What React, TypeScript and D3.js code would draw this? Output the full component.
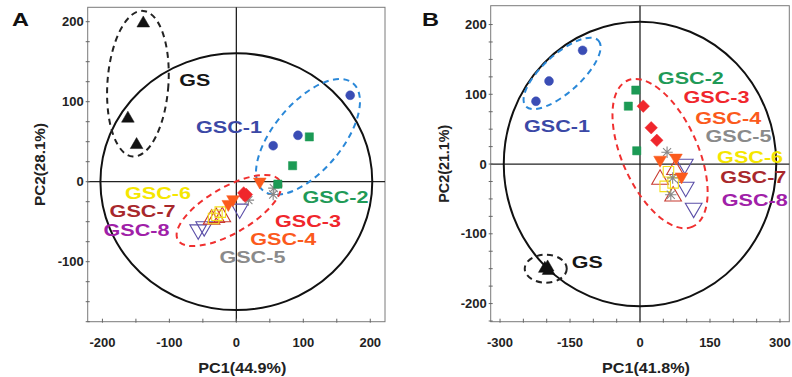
import React from "react";
import * as d3 from "d3";

// ---------- data ----------
const groups = ["GS", "GSC-1", "GSC-2", "GSC-3", "GSC-4", "GSC-5", "GSC-6", "GSC-7", "GSC-8"];
const groupShapes = ["triangle", "circle", "square", "diamond", "triDown", "asterisk", "squareOpen", "triOpen", "triDownOpen"];
const markerColors = ["#111111", "#3a4db5", "#1c9a55", "#f0262c", "#fb5a1c", "#888888", "#f3e01c", "#c8392f", "#5b4fa8"];
const labelColors = ["#151515", "#3b48a6", "#1f9a57", "#f0262c", "#fb5a1c", "#8a8a8a", "#f5e600", "#a8282c", "#a020a8"];

// Panel A scores (PC1, PC2)
const pointsA: [number, number][][] = [
  [[-139, 198], [-162, 79], [-149, 46]],
  [[170, 108], [92, 58], [55, 45]],
  [[109, 56], [84, 20], [62, -3]],
  [[11, -14], [15, -16], [13, -18]],
  [[35, 0], [-5, -22], [-12, -28]],
  [[18, -23], [56, -8], [55, -16]],
  [[-24, -38], [-34, -46], [-29, -42]],
  [[-37, -47], [-30, -45], [-21, -44]],
  [[-57, -60], [-48, -56], [5, -34]],
];
// Panel B scores (PC1, PC2)
const pointsB: [number, number][][] = [
  [[-204, -150], [-198, -148], [-196, -153]],
  [[-123, 163], [-195, 119], [-223, 90]],
  [[-9, 106], [-25, 83], [-7, 19]],
  [[7, 83], [24, 52], [36, 34]],
  [[43, 6], [77, 9], [89, -18]],
  [[58, 17], [66, -44], [70, -20]],
  [[61, -11], [54, -32], [71, -27]],
  [[43, -22], [75, -8], [71, -46]],
  [[96, 0], [98, -33], [115, -63]],
];
// label anchor positions (data units)
const labelPosA: [number, number][] = [[-62, 127], [-11, 68], [148, -19], [107, -49], [70, -72], [24, -94], [-117, -14], [-140, -37], [-149, -60]];
const labelPosB: [number, number][] = [[-113, -140], [-178, 54], [109, 124], [164, 96], [189, 66], [211, 40], [236, 10], [243, -18], [246, -51]];

const xTicksA = d3.range(-200, 201, 50);
const xLabelsA = [-200, -100, 0, 100, 200];
const yTicksA = d3.range(-175, 201, 25);
const yLabelsA = [-100, 0, 100, 200];
const xTicksB = d3.range(-300, 301, 50);
const xLabelsB = [-300, -150, 0, 150, 300];
const yTicksB = d3.range(-225, 201, 25);
const yLabelsB = [-200, -100, 0, 100, 200];

// Hotelling T2 ellipse radii (data units)
const t2A = [203, 160.5];
const t2B = [292, 204];

// group ellipses: [centerX, centerY] in data units
const ellCentersA: [number, number][] = [[-147, 122.5], [107, 56], [-11, -36]];
const ellCentersB: [number, number][] = [[-202, -150], [-167, 130], [43, 15]];

const FONT = "'Liberation Sans', Arial, Helvetica, sans-serif";

function symbolPath(shape: string, size: number) {
  switch (shape) {
    case "circle": return d3.symbol().type(d3.symbolCircle).size(size)()!;
    case "square":
    case "squareOpen":
    case "diamond": return d3.symbol().type(d3.symbolSquare).size(size)()!;
    case "triangle":
    case "triOpen":
    case "triDown":
    case "triDownOpen": return d3.symbol().type(d3.symbolTriangle).size(size)()!;
    default: {
      const r = Math.sqrt(size) * 0.6;
      let p = "";
      for (let i = 0; i < 4; i++) {
        const a = (i * Math.PI) / 4;
        p += `M${-r * Math.cos(a)},${-r * Math.sin(a)}L${r * Math.cos(a)},${r * Math.sin(a)}`;
      }
      return p;
    }
  }
}

function Marker({ shape, color, x, y }: { shape: string; color: string; x: number; y: number }) {
  const open = shape.endsWith("Open") || shape === "asterisk";
  const down = shape.startsWith("triDown");
  const size = shape === "circle" ? 62 : shape === "square" ? 68 : shape === "diamond" ? 78 :
    shape === "triangle" || shape === "triDown" ? 70 : shape === "asterisk" ? 90 : shape === "squareOpen" ? 110 : 120;
  const rot = down ? " rotate(180)" : shape === "diamond" ? " rotate(45)" : "";
  return (
    <path
      d={symbolPath(shape, size)}
      transform={`translate(${x},${y})${rot}`}
      fill={open ? "none" : color}
      stroke={color}
      strokeWidth={open ? 1.1 : 0.5}
    />
  );
}

type Cfg = {
  letter: string;
  xDom: [number, number]; xRange: [number, number];
  yDom: [number, number]; yRange: [number, number];
  xTicks: number[]; xLabels: number[]; yTicks: number[]; yLabels: number[];
  points: [number, number][][]; labelPos: [number, number][];
  t2: number[]; ellCenters: [number, number][];
  ellShapes: { a: number; b: number; rot: number; color: string }[];
  xTitle: string; yTitle: string; yTitleLen: number;
  letterX: number; yTitleX: number;
};

function Panel({ c }: { c: Cfg }) {
  const x = d3.scaleLinear().domain(c.xDom).range(c.xRange);
  const y = d3.scaleLinear().domain(c.yDom).range(c.yRange);
  const [x0, x1] = c.xRange;
  const [y0, y1] = c.yRange; // y0 bottom, y1 top
  const t2x = Math.abs(x(c.t2[0]) - x(0));
  const t2y = Math.abs(y(c.t2[1]) - y(0));
  return (
    <g fontFamily={FONT} fontWeight="bold">
      <text x={c.letterX} y={26} fontSize={19} textLength={17} lengthAdjust="spacingAndGlyphs" fill="#111">{c.letter}</text>
      {/* frame */}
      <rect x={x0} y={y1} width={x1 - x0} height={y0 - y1} fill="none" stroke="#7a7a7a" strokeWidth={1} />
      {/* crosshair */}
      <line x1={x0} x2={x1} y1={y(0)} y2={y(0)} stroke="#222" strokeWidth={1.3} />
      <line x1={x(0)} x2={x(0)} y1={y1} y2={y0} stroke="#222" strokeWidth={1.3} />
      {/* ticks */}
      {c.xTicks.map((t) => (
        <line key={"xt" + t} x1={x(t)} x2={x(t)} y1={y0 - 3} y2={y0 + 1} stroke="#666" strokeWidth={1} />
      ))}
      {c.yTicks.map((t) => (
        <line key={"yt" + t} x1={x0 - 2} x2={x0 + 2} y1={y(t)} y2={y(t)} stroke="#666" strokeWidth={1} />
      ))}
      {c.xLabels.map((t) => (
        <text key={"xl" + t} x={x(t)} y={y0 + 25} fontSize={13} textAnchor="middle" fill="#222">{t}</text>
      ))}
      {c.yLabels.map((t) => (
        <text key={"yl" + t} x={x0 - 4} y={y(t) + 4.5} fontSize={13} textAnchor="end" fill="#222">{t}</text>
      ))}
      <text x={(x0 + x1) / 2 + 6} y={y0 + 51} fontSize={15} textAnchor="middle" textLength={88} lengthAdjust="spacingAndGlyphs" fill="#222">{c.xTitle}</text>
      <text transform={`translate(${c.yTitleX},${(y0 + y1) / 2}) rotate(-90)`} fontSize={15} textAnchor="middle" textLength={c.yTitleLen} lengthAdjust="spacingAndGlyphs" fill="#222">{c.yTitle}</text>
      {/* T2 ellipse */}
      <ellipse cx={x(0)} cy={y(0)} rx={t2x} ry={t2y} fill="none" stroke="#111" strokeWidth={2} />
      {/* group ellipses */}
      {c.ellCenters.map((p, i) => {
        const e = c.ellShapes[i];
        return (
          <ellipse key={"e" + i} transform={`translate(${x(p[0])},${y(p[1])}) rotate(${e.rot})`} rx={e.a} ry={e.b}
            fill="none" stroke={e.color} strokeWidth={2} strokeDasharray="6,4.5" />
        );
      })}
      {/* points (draw later groups first so filled ones on top) */}
      {[8, 7, 6, 5, 4, 3, 2, 1, 0].map((gi) =>
        c.points[gi].map((p, j) => (
          <Marker key={gi + "-" + j} shape={groupShapes[gi]} color={markerColors[gi]} x={x(p[0])} y={y(p[1])} />
        ))
      )}
      {/* labels */}
      {groups.map((g, i) => (
        <text key={"lab" + g} x={x(c.labelPos[i][0])} y={y(c.labelPos[i][1]) + 6} fontSize={16.5} textAnchor="middle"
          textLength={g === "GS" ? 31 : 66} lengthAdjust="spacingAndGlyphs" fill={labelColors[i]}>{g}</text>
      ))}
    </g>
  );
}

const cfgA: Cfg = {
  letter: "A",
  xDom: [-222, 222], xRange: [87.7, 385],
  yDom: [-175, 218], yRange: [321.7, 7.3],
  xTicks: xTicksA, xLabels: xLabelsA, yTicks: yTicksA, yLabels: yLabelsA,
  points: pointsA, labelPos: labelPosA, t2: t2A, ellCenters: ellCentersA,
  ellShapes: [
    { a: 30.5, b: 73, rot: 4, color: "#222" },
    { a: 70, b: 34, rot: -50, color: "#2a88d8" },
    { a: 59, b: 23, rot: -30, color: "#f03030" },
  ],
  xTitle: "PC1(44.9%)", yTitle: "PC2(28.1%)", yTitleLen: 83,
  letterX: 12, yTitleX: 45,
};

const cfgB: Cfg = {
  letter: "B",
  xDom: [-320, 320], xRange: [490.7, 789.3],
  yDom: [-226, 227], yRange: [321.7, 5.7],
  xTicks: xTicksB, xLabels: xLabelsB, yTicks: yTicksB, yLabels: yLabelsB,
  points: pointsB, labelPos: labelPosB, t2: t2B, ellCenters: ellCentersB,
  ellShapes: [
    { a: 21, b: 14, rot: 0, color: "#222" },
    { a: 49, b: 19, rot: -42, color: "#2a88d8" },
    { a: 80, b: 38, rot: 66, color: "#f03030" },
  ],
  xTitle: "PC1(41.8%)", yTitle: "PC2(21.1%)", yTitleLen: 78,
  letterX: 422, yTitleX: 449,
};

export default function App() {
  return (
    <svg width={792} height={377} style={{ position: "absolute", left: 0, top: 0, background: "#fff" }}>
      <rect width={792} height={377} fill="#fff" />
      <Panel c={cfgA} />
      <Panel c={cfgB} />
    </svg>
  );
}
